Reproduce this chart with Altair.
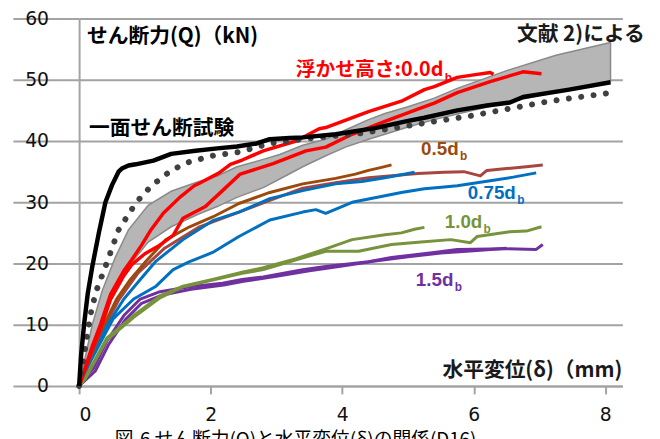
import altair as alt
import pandas as pd

# ---------------- data ----------------
band_x  = [0, 0.05, 0.2, 0.35, 0.55, 0.75, 1.05, 1.4, 1.8, 2.1, 2.4, 2.8, 3.05, 3.4, 3.75, 4.05, 4.4, 4.65, 5.0, 5.4, 5.75, 6.5, 7.25, 8.08]
band_hi = [0, 2.5, 10, 15.5, 21, 25.5, 29.5, 31.8, 33.3, 34.3, 35.8, 37.0, 37.8, 39.3, 40.3, 41.8, 43.5, 44.5, 45.6, 47.0, 48.6, 51.5, 54.0, 56.1]
band_lo = [0, 1, 6.5, 11, 16, 19.5, 23.5, 26.0, 28.0, 29.3, 30.8, 32.4, 33.8, 35.8, 37.6, 39.0, 40.3, 41.1, 42.3, 43.5, 44.4, 46.3, 48.0, 49.7]

black_x = [0, 0.03, 0.075, 0.13, 0.2, 0.3, 0.4, 0.5, 0.6, 0.65, 0.75, 0.86, 0.95, 1.13, 1.3, 1.4, 1.77, 2.1, 2.4, 2.7, 2.9, 3.2, 3.4, 3.9, 4.5, 5.0, 5.25, 5.75, 6.2, 6.55, 6.75, 7.45, 8.08]
black_y = [0, 5, 10, 15, 19.5, 25, 30, 32.8, 35.0, 35.5, 36.0, 36.2, 36.4, 36.8, 37.5, 37.9, 38.4, 38.8, 39.1, 39.6, 40.3, 40.5, 40.6, 41.1, 42.1, 43.3, 43.8, 45.0, 45.8, 46.3, 47.2, 48.4, 49.6]

dot_x = [0, 0.03, 0.12, 0.19, 0.27, 0.4, 0.6, 0.87, 1.1, 1.4, 1.65, 2.03, 2.43, 2.9, 3.55, 4.3, 4.9, 5.4, 5.9, 6.5, 7.15, 8.1]
dot_y = [0, 1.8, 8.2, 12.6, 15.8, 19.5, 25.5, 30, 32.7, 35.2, 36.5, 37.6, 38.2, 39.6, 40.5, 41.3, 42.3, 43.2, 44.0, 45.2, 46.5, 47.9]

redA_x = [0, 0.075, 0.2, 0.33, 0.48, 0.68, 0.8, 0.95, 1.08, 1.28, 1.53, 1.75, 1.83, 2.13, 2.3, 2.48, 2.8, 3.3, 3.65, 3.75, 4.4, 4.9, 5.25, 5.4, 5.75, 6.0, 6.25, 6.3]
redA_y = [0, 2.4, 6.5, 10.2, 15, 18.8, 20.6, 23, 25.3, 28.2, 30.8, 32.7, 33.1, 34.8, 36.2, 36.9, 38.4, 40.0, 42.0, 42.2, 44.8, 46.5, 48.4, 48.9, 50.4, 50.8, 51.2, 50.9]
redB_x = [0, 0.075, 0.2, 0.33, 0.48, 0.68, 0.8, 1.0, 1.2, 1.43, 1.58, 1.92, 2.18, 2.45, 2.95, 3.45, 3.75, 4.15, 4.65, 5.15, 5.4, 5.75, 6.25, 6.75, 7.03]
redB_y = [0, 2.2, 6.0, 9.5, 14.2, 18.0, 19.8, 21.6, 22.8, 24.6, 27.4, 29.3, 31.9, 34.6, 36.3, 38.4, 39.0, 41.1, 43.2, 45.2, 46.2, 47.9, 49.7, 51.3, 51.0]

brown_x = [0, 0.05, 0.12, 0.33, 0.57, 0.78, 1.02, 1.32, 1.68, 2.03, 2.43, 2.9, 3.4, 3.9, 4.2, 4.4, 4.6, 4.75]
brown_y = [0, 1.5, 3.4, 8.9, 14.2, 17.4, 20.4, 23.9, 26.0, 27.6, 29.8, 31.6, 33.0, 33.9, 34.6, 35.2, 35.7, 36.1]
mred_x = [0, 0.1, 0.3, 0.6, 0.9, 1.3, 1.83, 2.43, 2.9, 3.4, 3.9, 4.4, 5.15, 5.55, 5.85, 6.1, 6.2, 6.5, 6.8, 7.05]
mred_y = [0, 3, 8, 14, 18.5, 22.5, 26, 28.4, 30.3, 32.3, 33.2, 34.0, 34.7, 34.9, 35.0, 34.3, 35.2, 35.5, 35.8, 36.1]

blueA_x = [0, 0.05, 0.12, 0.42, 0.68, 0.93, 1.17, 1.58, 2.03, 2.43, 2.9, 3.4, 3.9, 4.3, 4.65, 4.9, 5.1]
blueA_y = [0, 1.5, 2.9, 9.8, 14.2, 17.4, 20.4, 23.9, 27.0, 28.4, 30.6, 31.9, 33.0, 33.4, 34.0, 34.5, 34.9]
blueB_x = [0, 0.05, 0.17, 0.52, 0.83, 1.17, 1.43, 1.68, 2.03, 2.43, 2.9, 3.4, 3.6, 3.75, 4.15, 4.9, 5.25, 5.55, 5.75, 6.25, 6.6, 6.95]
blueB_y = [0, 1.5, 4, 11, 14.2, 16.3, 19, 20.3, 21.8, 24.4, 27.1, 28.4, 28.8, 28.2, 30.0, 31.6, 32.2, 32.5, 32.7, 33.5, 34.1, 34.8]

greenA_x = [0, 0.1, 0.42, 0.83, 1.23, 1.58, 2.03, 2.48, 2.8, 3.3, 3.75, 4.15, 4.65, 4.9, 5.1, 5.25]
greenA_y = [0, 1.5, 7.8, 11.5, 14.7, 16.3, 17.4, 18.6, 19.3, 20.8, 22.4, 23.9, 24.7, 25.0, 25.6, 25.9]
greenB_x = [0, 0.1, 0.42, 0.83, 1.23, 1.58, 2.03, 2.48, 2.8, 3.3, 3.75, 4.25, 4.75, 5.2, 5.65, 5.95, 6.05, 6.55, 6.8, 7.03]
greenB_y = [0, 1.3, 7.5, 11.2, 14.4, 16.2, 17.3, 18.4, 19.0, 20.6, 22.0, 22.0, 23.1, 23.5, 23.9, 23.4, 24.4, 25.2, 25.3, 26.0]

purpA_x = [0, 0.03, 0.22, 0.42, 0.68, 0.93, 1.23, 1.68, 2.18, 2.48, 2.8, 3.4, 3.75, 4.4, 4.75, 5.4, 5.75, 6.5, 6.95, 7.05]
purpA_y = [0, 0.8, 2.9, 7.3, 11.5, 14.2, 15.4, 16.2, 16.8, 17.4, 17.8, 19.0, 19.5, 20.3, 21.0, 21.8, 22.3, 22.4, 22.3, 23.1]
purpB_x = [0, 0.05, 0.25, 0.45, 0.7, 0.95, 1.25, 1.7, 2.2, 2.5, 3.0, 3.5, 4.0, 4.5, 5.0, 5.5, 6.0, 6.5]
purpB_y = [0, 0.5, 2.5, 6.8, 10.8, 13.5, 14.8, 15.8, 16.5, 17.1, 17.9, 18.8, 19.6, 20.4, 21.1, 21.7, 22.1, 22.5]

y_ticks = [0, 10, 20, 30, 40, 50, 60]
x_ticks = [0, 2, 4, 6, 8]

# ---------------- scales & axes ----------------
xscale = alt.Scale(domain=[0, 8.26], nice=False, zero=False)
yscale = alt.Scale(domain=[0, 60], nice=False)
GRAY = "#A3A3A3"
xaxis = alt.Axis(values=x_ticks, format="d", grid=False, title=None, domainColor=GRAY, domainWidth=2,
                 tickColor=GRAY, tickWidth=2, tickSize=8, labelPadding=12,
                 labelFont="DejaVu Sans", labelFontSize=19, labelColor="#111111")
yaxis = alt.Axis(values=y_ticks, format="d", grid=True, gridColor=GRAY, gridWidth=2, title=None,
                 domainColor=GRAY, domainWidth=2, tickColor=GRAY, tickWidth=2, tickSize=67,
                 labelPadding=-36, labelFont="DejaVu Sans", labelFontSize=19, labelColor="#111111")

band_df = pd.DataFrame({"x": band_x, "lo": band_lo, "hi": band_hi})
band = alt.Chart(band_df).mark_area(fill="#B6B6B6", stroke="#8A8A8A", strokeWidth=1.5).encode(
    x=alt.X("x:Q", scale=xscale, axis=xaxis),
    y=alt.Y("lo:Q", scale=yscale, axis=yaxis),
    y2="hi:Q",
)


def line(xs, ys, color, width, **kw):
    df = pd.DataFrame({"x": xs, "y": ys, "i": range(len(xs))})
    return alt.Chart(df).mark_line(color=color, strokeWidth=width, strokeJoin="round", **kw).encode(
        x=alt.X("x:Q", scale=xscale), y=alt.Y("y:Q", scale=yscale), order="i:Q")


layers = [
    band,
    line(purpB_x, purpB_y, "#7030A0", 3),
    line(purpA_x, purpA_y, "#7030A0", 3),
    line(greenB_x, greenB_y, "#77933C", 3),
    line(greenA_x, greenA_y, "#77933C", 3),
    line(blueB_x, blueB_y, "#0070C0", 3),
    line(mred_x, mred_y, "#A6463F", 3),
    line(blueA_x, blueA_y, "#0070C0", 3),
    line(brown_x, brown_y, "#9C4A0C", 3),
    line(redB_x, redB_y, "#FF0000", 3.5),
    line(redA_x, redA_y, "#FF0000", 3.5),
    line(dot_x, dot_y, "#404040", 6, strokeDash=[0.1, 12.5], strokeCap="round"),
    line(black_x, black_y, "#000000", 4.5),
]

# ---------------- annotations ----------------
JP = "Noto Sans CJK JP"


def text(items, color, size, align, font=JP, weight="bold", baseline="middle"):
    df = pd.DataFrame(items, columns=["x", "y", "t"])
    return alt.Chart(df).mark_text(color=color, fontSize=size, align=align, baseline=baseline,
                                   font=font, fontWeight=weight).encode(
        x=alt.X("x:Q", scale=xscale), y=alt.Y("y:Q", scale=yscale), text="t:N")


lbl_left_black = [(0.12, 56.9, "せん断力(Q)（kN)"), (0.15, 41.9, "一面せん断試験")]
lbl_right_black = [(8.6, 57.3, "文献 2)による"), (8.26, 2.4, "水平変位(δ)（mm)")]
lbl_red = [(5.54, 51.6, "浮かせ高さ:0.0d")]
lbl_red_sub = [(5.56, 50.3, "b")]
lbl_brown = [(5.77, 38.7, "0.5d")]
lbl_brown_sub = [(5.79, 37.6, "b")]
lbl_blue = [(6.64, 31.5, "0.75d")]
lbl_blue_sub = [(6.66, 30.3, "b")]
lbl_green = [(6.13, 26.8, "1.0d")]
lbl_green_sub = [(6.15, 25.6, "b")]
lbl_purple = [(5.69, 17.3, "1.5d")]
lbl_purple_sub = [(5.71, 16.1, "b")]
caption = [(3.29, -7.45, "図-6 せん断力(Q)と水平変位(δ)の関係(D16)")]

AR = "Liberation Sans"
layers += [
    text(lbl_left_black, "#000000", 21, "left"),
    text(lbl_right_black, "#1A1A1A", 21, "right"),
    text(lbl_red, "#FF0000", 20, "right"),
    text(lbl_red_sub, "#FF0000", 12, "left", font=AR),
    text(lbl_brown, "#9C4A0C", 19, "right", font=AR),
    text(lbl_brown_sub, "#9C4A0C", 12, "left", font=AR),
    text(lbl_blue, "#0070C0", 19, "right", font=AR),
    text(lbl_blue_sub, "#0070C0", 12, "left", font=AR),
    text(lbl_green, "#77933C", 19, "right", font=AR),
    text(lbl_green_sub, "#77933C", 12, "left", font=AR),
    text(lbl_purple, "#7030A0", 19, "right", font=AR),
    text(lbl_purple_sub, "#7030A0", 12, "left", font=AR),
    text(caption, "#000000", 19, "center", weight="normal", baseline="top"),
]

chart = alt.layer(*layers).properties(
    width=550, height=372,
    autosize=alt.AutoSizeParams(type="none"),
    padding={"left": 72, "top": 8, "right": 30, "bottom": 52},
    background="white",
).configure_view(stroke=None)

chart.save("out.html", embed_options={"renderer": "svg", "actions": False})
